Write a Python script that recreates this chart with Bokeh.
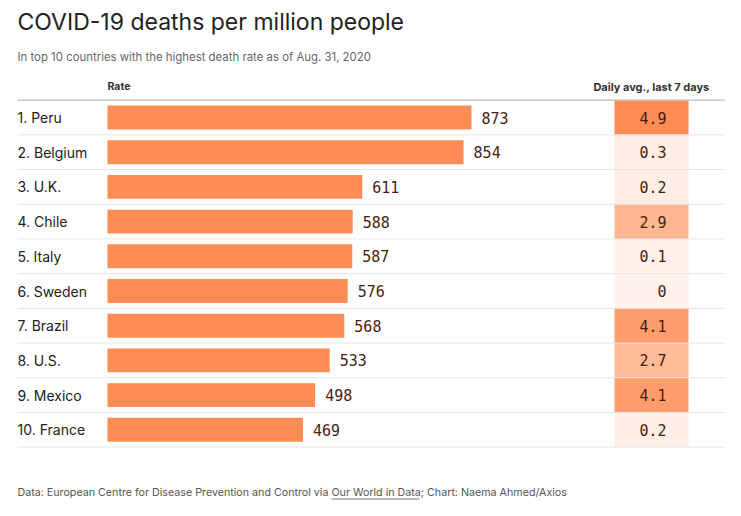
from bokeh.plotting import figure
from bokeh.models import Range1d, ColumnDataSource
from bokeh.core.properties import value
from bokeh.embed import file_html
from bokeh.resources import INLINE

countries = ["Peru", "Belgium", "U.K.", "Chile", "Italy", "Sweden", "Brazil", "U.S.", "Mexico", "France"]
rates = [873, 854, 611, 588, 587, 576, 568, 533, 498, 469]
daily_avg = [4.9, 0.3, 0.2, 2.9, 0.1, 0.0, 4.1, 2.7, 4.1, 0.2]
daily_labels = ["4.9", "0.3", "0.2", "2.9", "0.1", "0", "4.1", "2.7", "4.1", "0.2"]

W, H = 725, 500
SANS = "Inter"
MONO = "DejaVu Sans Mono"

# layout (figure pixels)
bar_left_px = 107
px_per_unit = 364.0 / 873.0
row_top_px = 117.0
row_step = 34.7

p = figure(width=W, height=H, output_backend="svg", toolbar_location=None,
           x_range=Range1d(0, W), y_range=Range1d(H, 0), min_border=0,
           outline_line_color=None, background_fill_color="white")
p.xaxis.visible = False
p.yaxis.visible = False
p.grid.visible = False

p.extra_x_ranges = {"rate": Range1d(-bar_left_px / px_per_unit, (W - bar_left_px) / px_per_unit)}
p.extra_y_ranges = {"row": Range1d((H - row_top_px) / row_step, -row_top_px / row_step)}

idx = list(range(len(countries)))

# heat colors
def lerp(c0, c1, t):
    return "#%02x%02x%02x" % tuple(int(round(a + (b - a) * t)) for a, b in zip(c0, c1))

lo, hi = (255, 242, 235), (255, 140, 85)
vmax = max(daily_avg)
cell_colors = [lerp(lo, hi, v / vmax) for v in daily_avg]

src = ColumnDataSource(dict(
    idx=idx,
    rate=rates,
    avg=daily_avg,
    avg_label=daily_labels,
    rate_label=[str(r) for r in rates],
    country=[f"{i + 1}. {c}" for i, c in enumerate(countries)],
    color=cell_colors,
))

# heatmap cells
cell_x = 651
p.rect(x=cell_x, y="idx", width=74, height=1, source=src, fill_color="color",
       line_color=None, y_range_name="row")

# bars
p.hbar(y="idx", left=0, right="rate", height=0.69, source=src, fill_color="#ff8c55",
       line_color=None, x_range_name="rate", y_range_name="row")

# separators
seps = [i - 0.5 for i in range(len(countries) + 1)]
p.segment(x0=17, x1=W, y0=seps[1:], y1=seps[1:], line_color="#e6e6e6", line_width=1,
          y_range_name="row")
p.segment(x0=[17], x1=[W], y0=[seps[0]], y1=[seps[0]], line_color="#bdbdbd", line_width=1.2,
          y_range_name="row")

# country labels
p.text(x=17, y="idx", text="country", source=src, text_font=value(SANS), text_font_size="14px",
       text_color="#222222", text_baseline="middle", y_range_name="row")

# bar value labels
p.text(x="rate", y="idx", text="rate_label", source=src, x_offset=10, text_font=value(MONO),
       text_font_size="15px", text_color="#4a1c12", text_baseline="middle",
       x_range_name="rate", y_range_name="row")

# cell labels
p.text(x=666, y="idx", text="avg_label", source=src, text_font=value(MONO),
       text_font_size="15px", text_color="#4a1c12", text_baseline="middle", text_align="right",
       y_range_name="row")

# titles and headers
p.text(x=[17], y=[21], text=["COVID-19 deaths per million people"], text_font=value(SANS),
       text_font_size="23px", text_color="#222222", text_baseline="middle")
p.text(x=[17], y=[56], text=["In top 10 countries with the highest death rate as of Aug. 31, 2020"],
       text_font=value(SANS), text_font_size="11.4px", text_color="#666666", text_baseline="middle")
p.text(x=[bar_left_px], y=[86], text=["Rate"], text_font=value(SANS), text_font_size="10.5px",
       text_color="#333333", text_baseline="middle", text_font_style="bold")
p.text(x=[cell_x], y=[86], text=["Daily avg., last 7 days"], text_font=value(SANS),
       text_font_size="11px", text_color="#333333", text_baseline="middle",
       text_align="center", text_font_style="bold")

# footer
p.text(x=[17], y=[492],
       text=["Data: European Centre for Disease Prevention and Control via Our World in Data; Chart: Naema Ahmed/Axios"],
       text_font=value(SANS), text_font_size="10.7px", text_color="#555555", text_baseline="middle")
p.segment(x0=[331], x1=[419], y0=[498.5], y1=[498.5], line_color="#555555", line_width=0.8)

open("out.html", "w").write(file_html(p, INLINE))
